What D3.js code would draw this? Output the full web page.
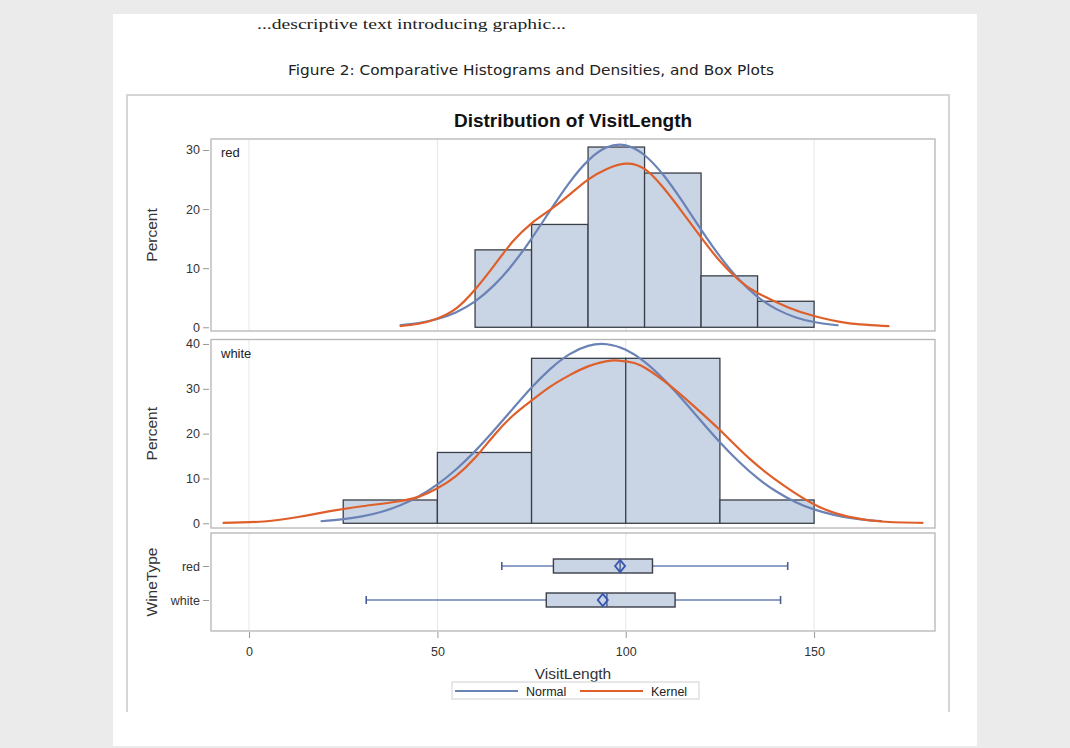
<!DOCTYPE html>
<html><head><meta charset="utf-8">
<script src="https://cdn.jsdelivr.net/npm/d3@7"></script>
<style>body{margin:0;background:#ebebeb;}svg{display:block;}</style>
</head><body>
<svg id="c" width="1070" height="748"></svg>
<script>
// ---- data ----
const xTicks = [0, 50, 100, 150];
const redBins = [[60,75],[75,90],[90,105],[105,120],[120,135],[135,150]];
const redPct = [13.1, 17.4, 30.5, 26.1, 8.7, 4.4];
const whiteBins = [[25,50],[50,75],[75,100],[100,125],[125,150]];
const whitePct = [5.2, 15.8, 36.8, 36.8, 5.2];
const redTicks = [0, 10, 20, 30];
const whiteTicks = [0, 10, 20, 30, 40];
const redNormal = [[40,0.34],[45,0.71],[50,1.39],[55,2.56],[60,4.40],[65,7.09],[70,10.66],[75,15.02],[80,19.81],[85,24.43],[90,28.20],[95,30.46],[100,30.78],[105,29.11],[110,25.76],[115,21.33],[120,16.53],[125,11.99],[130,8.13],[135,5.16],[140,3.07],[145,1.71],[150,0.89],[155,0.43],[156.5,0.34]];
const redKernel = [[40,0.2],[45,0.6],[50,1.5],[55,3.2],[60,6.4],[65,10.4],[70,14.5],[75,17.6],[80,19.9],[85,22.4],[90,25.0],[95,26.8],[100,27.7],[105,26.8],[110,23.6],[115,19.5],[120,15.2],[125,11.2],[130,8.0],[135,5.8],[143,3.4],[150,1.9],[159,0.7],[170,0.2]];
const whiteNormal = [[19,0.45],[25,0.91],[30,1.54],[35,2.52],[40,3.97],[45,5.98],[50,8.67],[55,12.06],[60,16.10],[65,20.70],[70,25.53],[75,30.29],[80,34.46],[85,37.69],[90,39.59],[95,39.94],[100,38.70],[105,36.03],[110,32.21],[115,27.68],[120,22.83],[125,18.08],[130,13.78],[135,10.07],[140,7.08],[145,4.77],[150,3.10],[155,1.93],[160,1.15],[165,0.66],[168,0.47]];
const whiteKernel = [[-7,0.1],[4,0.4],[13,1.4],[21.5,2.7],[30,3.8],[39,4.8],[45,5.9],[50,7.8],[55,10.6],[60,14.6],[65,19.6],[70,24.0],[75,27.4],[80,30.5],[85,33.0],[90,35.0],[96,36.3],[100,36.1],[104,35.2],[111,31.2],[118,26.2],[125,20.8],[133,14.3],[142,8.4],[151,3.8],[159,1.5],[168,0.4],[179,0.1]];
const boxCats = ["red", "white"];
const boxStats = [
  {cat:"red", min:67.1, q1:80.8, median:98.5, q3:107.1, max:143.0, mean:98.5},
  {cat:"white", min:31.1, q1:78.9, median:95.0, q3:113.1, max:141.1, mean:93.9}
];
const legendItems = ["Normal", "Kernel"];

// ---- layout ----
const svg = d3.select("#c");
const F = "'Liberation Sans', Arial, sans-serif";
const NORMAL = "#6a82b5", KERNEL = "#df5f2b", FILL = "#c9d4e5", EDGE = "#3a3f48";
const L = 211, R = 935;
const x = d3.scaleLinear().domain([-10.1, 182.1]).range([L, R]);

svg.append("rect").attr("x",113).attr("y",14).attr("width",864).attr("height",732).attr("fill","#fff");
svg.append("text").attr("x",257).attr("y",29).attr("font-family","'Liberation Serif', 'DejaVu Serif', serif")
  .attr("font-size",14).attr("fill","#222").attr("textLength",309).attr("lengthAdjust","spacingAndGlyphs")
  .text("...descriptive text introducing graphic...");
svg.append("text").attr("x",288).attr("y",75).attr("font-family","'DejaVu Sans', sans-serif")
  .attr("font-size",13.5).attr("fill","#222").attr("textLength",486).attr("lengthAdjust","spacingAndGlyphs")
  .text("Figure 2: Comparative Histograms and Densities, and Box Plots");

// chart frame
svg.append("path").attr("d","M127,712 V95 H949 V712").attr("fill","none").attr("stroke","#d6d6d6").attr("stroke-width",2);

svg.append("text").attr("x",573).attr("y",127).attr("text-anchor","middle").attr("font-family",F)
  .attr("font-weight","bold").attr("font-size",19).attr("fill","#111").text("Distribution of VisitLength");

function panel(top, bottom, domain, ticks, bins, pct, normal, kernel, label) {
  const y = d3.scaleLinear().domain(domain).range([bottom, top]);
  const g = svg.append("g");
  g.append("rect").attr("x",L).attr("y",top).attr("width",R-L).attr("height",bottom-top).attr("fill","#fff");
  g.selectAll(".grid").data(xTicks).join("line").attr("x1",d=>x(d)).attr("x2",d=>x(d))
    .attr("y1",top).attr("y2",bottom).attr("stroke","#e6e6e6").attr("stroke-width",1);
  g.selectAll(".bar").data(bins).join("rect")
    .attr("x",d=>x(d[0])).attr("width",d=>x(d[1])-x(d[0]))
    .attr("y",(d,i)=>y(pct[i])).attr("height",(d,i)=>y(0)-y(pct[i]))
    .attr("fill",FILL).attr("stroke",EDGE).attr("stroke-width",1.3);
  const line = d3.line().x(d=>x(d[0])).y(d=>y(d[1])).curve(d3.curveNatural);
  g.append("path").datum(normal).attr("d",line).attr("fill","none").attr("stroke",NORMAL).attr("stroke-width",2.2);
  g.append("path").datum(kernel).attr("d",line).attr("fill","none").attr("stroke",KERNEL).attr("stroke-width",2.2);
  g.append("rect").attr("x",L).attr("y",top).attr("width",R-L).attr("height",bottom-top)
    .attr("fill","none").attr("stroke","#b5b5b5").attr("stroke-width",1.3);
  const ax = d3.axisLeft(y).tickValues(ticks).tickSize(6).tickPadding(3).tickFormat(d3.format("d"));
  const a = svg.append("g").attr("transform",`translate(${L-2},0)`).call(ax);
  a.select(".domain").remove();
  a.selectAll("line").attr("stroke","#999");
  a.selectAll("text").attr("font-family",F).attr("font-size",12.5).attr("fill","#333");
  g.append("text").attr("x",221).attr("y",top+18).attr("font-family",F).attr("font-size",13).attr("fill","#222").text(label);
  svg.append("text").attr("transform",`translate(157,${(top+bottom)/2}) rotate(-90)`).attr("text-anchor","middle")
    .attr("font-family",F).attr("font-size",15.5).attr("fill","#333").text("Percent");
}
panel(139, 331, [-0.63, 31.86], redTicks, redBins, redPct, redNormal, redKernel, "red");
panel(339.5, 528, [-1.05, 41.0], whiteTicks, whiteBins, whitePct, whiteNormal, whiteKernel, "white");

// box panel
const bTop = 533, bBot = 631;
const yb = d3.scalePoint().domain(boxCats).range([566, 600]);
const gb = svg.append("g");
gb.selectAll(".grid").data(xTicks).join("line").attr("x1",d=>x(d)).attr("x2",d=>x(d))
  .attr("y1",bTop).attr("y2",bBot).attr("stroke","#e6e6e6");
boxStats.forEach(s=>{
  const cy = yb(s.cat), h = 14;
  gb.append("line").attr("x1",x(s.min)).attr("x2",x(s.max)).attr("y1",cy).attr("y2",cy).attr("stroke",NORMAL).attr("stroke-width",1.6);
  [s.min, s.max].forEach(v=>gb.append("line").attr("x1",x(v)).attr("x2",x(v)).attr("y1",cy-4).attr("y2",cy+4).attr("stroke","#4a5f95").attr("stroke-width",1.6));
  gb.append("rect").attr("x",x(s.q1)).attr("width",x(s.q3)-x(s.q1)).attr("y",cy-h/2).attr("height",h)
    .attr("fill",FILL).attr("stroke",EDGE).attr("stroke-width",1.4);
  gb.append("line").attr("x1",x(s.median)).attr("x2",x(s.median)).attr("y1",cy-h/2).attr("y2",cy+h/2).attr("stroke","#3b4f8c").attr("stroke-width",1.3);
  const mx = x(s.mean);
  gb.append("path").attr("d",`M${mx-5},${cy} L${mx},${cy-6} L${mx+5},${cy} L${mx},${cy+6} Z`)
    .attr("fill","none").attr("stroke","#3856b0").attr("stroke-width",1.9);
});
gb.append("rect").attr("x",L).attr("y",bTop).attr("width",R-L).attr("height",bBot-bTop)
  .attr("fill","none").attr("stroke","#b5b5b5").attr("stroke-width",1.3);
const ayb = svg.append("g").attr("transform",`translate(${L-2},0)`).call(d3.axisLeft(yb).tickSize(6).tickPadding(3));
ayb.select(".domain").remove();
ayb.selectAll("line").attr("stroke","#999");
ayb.selectAll("text").attr("font-family",F).attr("font-size",12.5).attr("fill","#333");
svg.append("text").attr("transform",`translate(157,${(bTop+bBot)/2}) rotate(-90)`).attr("text-anchor","middle")
  .attr("font-family",F).attr("font-size",15.5).attr("fill","#333").text("WineType");

// x axis
const axx = svg.append("g").attr("transform",`translate(0,${bBot+1})`).call(d3.axisBottom(x).tickValues(xTicks).tickSize(6).tickPadding(9));
axx.select(".domain").remove();
axx.selectAll("line").attr("stroke","#999");
axx.selectAll("text").attr("font-family",F).attr("font-size",12.5).attr("fill","#333");
svg.append("text").attr("x",573).attr("y",679).attr("text-anchor","middle").attr("font-family",F)
  .attr("font-size",15.5).attr("fill","#333").text("VisitLength");

// legend
const lg = svg.append("g");
lg.append("rect").attr("x",452).attr("y",682).attr("width",247).attr("height",17).attr("fill","#fff").attr("stroke","#d0d0d0");
const lx = [455, 580], tx = [526, 651], cols = [NORMAL, KERNEL];
legendItems.forEach((n,i)=>{
  lg.append("line").attr("x1",lx[i]).attr("x2",lx[i]+63).attr("y1",691).attr("y2",691).attr("stroke",cols[i]).attr("stroke-width",2.2);
  lg.append("text").attr("x",tx[i]).attr("y",695.5).attr("font-family",F).attr("font-size",12.5).attr("fill","#222").text(n);
});
</script>
</body></html>
